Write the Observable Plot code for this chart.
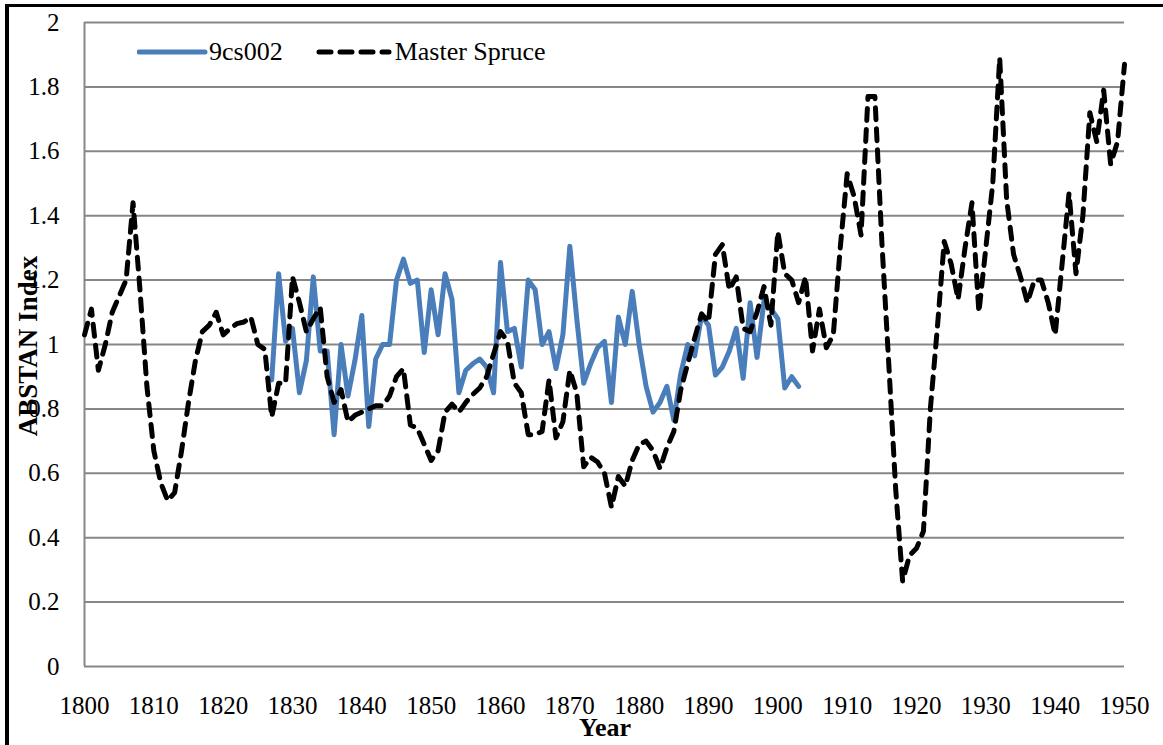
<!DOCTYPE html>
<html>
<head>
<meta charset="utf-8">
<script src="https://cdn.jsdelivr.net/npm/d3@7"></script>
<script src="https://cdn.jsdelivr.net/npm/@observablehq/plot@0.6"></script>
<style>
  html, body { margin: 0; padding: 0; background: #fff; }
  body { width: 1163px; height: 745px; position: relative; overflow: hidden; font-family: 'Liberation Serif', serif; }
  #frame { position: absolute; left: 5px; top: 4px; width: 1300px; height: 900px; border-left: 4px solid #000; border-top: 3px solid #000; box-sizing: border-box; }
  #chart { position: absolute; left: 0; top: 0; }
  #chart svg { display: block; font-family: 'Liberation Serif', serif; }
  #chart svg text { font-family: 'Liberation Serif', serif; }
  .ytitle { position: absolute; left: 28px; top: 346px; transform: translate(-50%, -50%) rotate(-90deg); font-weight: bold; font-size: 27px; white-space: nowrap; color: #000; font-family: 'Liberation Serif', serif; }
  .xtitle { position: absolute; left: 605px; top: 728px; transform: translate(-50%, -50%); font-weight: bold; font-size: 26px; color: #000; font-family: 'Liberation Serif', serif; }
  .legend { position: absolute; left: 137px; top: 37px; display: flex; align-items: center; font-size: 26px; color: #000; font-family: 'Liberation Serif', serif; }
  .legend svg { display: block; }
</style>
</head>
<body>
<div id="frame"></div>
<div id="chart"></div>
<div class="ytitle">ABSTAN Index</div>
<div class="xtitle">Year</div>
<div class="legend">
  <svg width="72" height="30"><line x1="2" y1="15" x2="68" y2="15" stroke="#4A7EBB" stroke-width="5" stroke-linecap="round"/></svg>
  <span>9cs002</span>
  <svg width="80" height="30" style="margin-left:32px"><line x1="4" y1="15" x2="74" y2="15" stroke="#000" stroke-width="5" stroke-linecap="round" stroke-dasharray="12,9"/></svg>
  <span>Master Spruce</span>
</div>
<script>
// ---- data ----
const masterStart = 1800;
const masterSpruce = [
  1.03, 1.11, 0.92, 1.00, 1.10, 1.15, 1.20, 1.44, 1.17, 0.87, // 1800-1809
  0.67, 0.57, 0.515, 0.54, 0.67, 0.82, 0.95, 1.04, 1.06, 1.10, // 1810-1819
  1.03, 1.05, 1.065, 1.07, 1.085, 1.00, 0.985, 0.775, 0.88, 0.88, // 1820-1829
  1.21, 1.13, 1.04, 1.08, 1.115, 0.90, 0.82, 0.86, 0.76, 0.78, // 1830-1839
  0.79, 0.80, 0.81, 0.81, 0.84, 0.90, 0.925, 0.75, 0.74, 0.69, // 1840-1849
  0.64, 0.67, 0.79, 0.815, 0.79, 0.82, 0.845, 0.865, 0.90, 0.97, // 1850-1859
  1.04, 1.01, 0.88, 0.85, 0.72, 0.72, 0.73, 0.89, 0.71, 0.76, // 1860-1869
  0.92, 0.85, 0.62, 0.65, 0.635, 0.60, 0.495, 0.59, 0.56, 0.64, // 1870-1879
  0.69, 0.70, 0.67, 0.615, 0.68, 0.73, 0.86, 0.94, 1.02, 1.095, // 1880-1889
  1.07, 1.28, 1.31, 1.17, 1.21, 1.05, 1.04, 1.10, 1.18, 1.06, // 1890-1899
  1.35, 1.22, 1.20, 1.13, 1.21, 0.98, 1.11, 0.99, 1.03, 1.30, // 1900-1909
  1.53, 1.46, 1.34, 1.77, 1.77, 1.32, 0.94, 0.55, 0.265, 0.345, // 1910-1919
  0.367, 0.42, 0.80, 1.05, 1.32, 1.25, 1.14, 1.30, 1.44, 1.10, // 1920-1929
  1.30, 1.50, 1.89, 1.45, 1.28, 1.21, 1.13, 1.20, 1.20, 1.13, // 1930-1939
  1.03, 1.25, 1.47, 1.22, 1.40, 1.72, 1.63, 1.79, 1.56, 1.63, // 1940-1949
  1.87 // 1950
];
const cs002Start = 1827;
const cs002 = [
  0.89, 1.22, 1.01, // 1827-1829
  1.05, 0.85, 0.95, 1.21, 0.98, 0.98, 0.72, 1.00, 0.84, 0.95, // 1830-1839
  1.09, 0.745, 0.955, 1.00, 1.00, 1.20, 1.265, 1.19, 1.20, 0.975, // 1840-1849
  1.17, 1.03, 1.22, 1.14, 0.85, 0.92, 0.94, 0.955, 0.93, 0.85, // 1850-1859
  1.255, 1.04, 1.05, 0.93, 1.20, 1.17, 1.00, 1.04, 0.925, 1.03, // 1860-1869
  1.305, 1.08, 0.88, 0.94, 0.99, 1.01, 0.82, 1.085, 1.00, 1.165, // 1870-1879
  1.00, 0.87, 0.79, 0.82, 0.87, 0.765, 0.91, 1.00, 0.965, 1.09, // 1880-1889
  1.06, 0.905, 0.93, 0.98, 1.05, 0.895, 1.13, 0.96, 1.135, 1.11, // 1890-1899
  1.08, 0.865, 0.90, 0.87 // 1900-1903
];
const xTicks = [1800, 1810, 1820, 1830, 1840, 1850, 1860, 1870, 1880, 1890, 1900, 1910, 1920, 1930, 1940, 1950];
const yTicks = [0, 0.2, 0.4, 0.6, 0.8, 1, 1.2, 1.4, 1.6, 1.8, 2];

const masterData = masterSpruce.map((v, i) => ({year: masterStart + i, value: v}));
const csData = cs002.map((v, i) => ({year: cs002Start + i, value: v}));

const fmtY = d => String(+d.toFixed(1));

const chart = Plot.plot({
  width: 1163,
  height: 745,
  marginLeft: 84,
  marginRight: 39,
  marginTop: 22,
  marginBottom: 79,
  style: {fontFamily: "'Liberation Serif', serif", fontSize: "25px", color: "#000", background: "transparent", overflow: "visible"},
  x: {domain: [1800, 1950]},
  y: {domain: [0, 2]},
  marks: [
    Plot.ruleY(yTicks, {stroke: "#878787", strokeWidth: 2}),
    Plot.ruleX([1800], {stroke: "#878787", strokeWidth: 2}),
    Plot.axisX({ticks: xTicks, tickSize: 0, tickPadding: 30, tickFormat: d => String(d), label: null, fontSize: 25}),
    Plot.axisY({ticks: yTicks, tickSize: 0, tickPadding: 25, tickFormat: fmtY, label: null, fontSize: 25}),
    Plot.line(csData, {x: "year", y: "value", stroke: "#4A7EBB", strokeWidth: 5, strokeLinejoin: "round", strokeLinecap: "round"}),
    Plot.line(masterData, {x: "year", y: "value", stroke: "#000", strokeWidth: 5, strokeDasharray: "12,9", strokeLinecap: "round", strokeLinejoin: "round"})
  ]
});
document.getElementById("chart").appendChild(chart);
</script>
</body>
</html>
